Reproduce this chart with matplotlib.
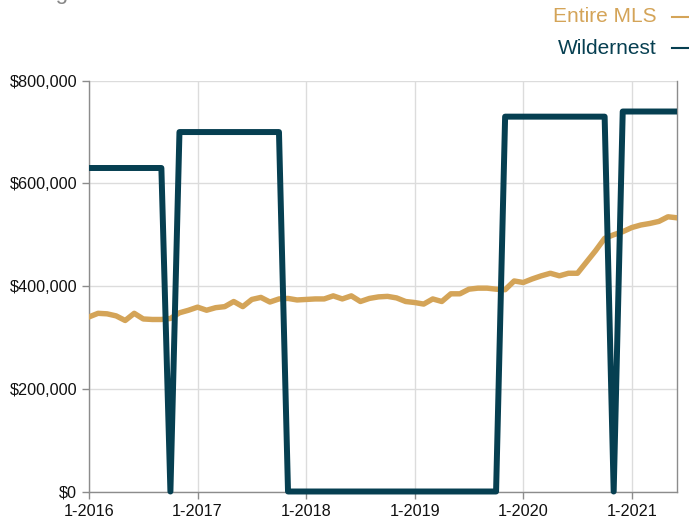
import matplotlib.pyplot as plt
from matplotlib.lines import Line2D
from matplotlib.ticker import FuncFormatter

plt.rcParams['font.family'] = ['Liberation Sans', 'DejaVu Sans']

# -------------------------
# Data (monthly, 1-2016 .. 6-2021)
# -------------------------
entire_mls = [340, 347, 346, 342, 333, 347, 336, 335, 335, 337,
              348, 353, 359, 353, 358, 360, 370, 360, 374, 378,
              369, 375, 376, 373, 374, 375, 375, 381, 375, 381,
              370, 376, 379, 380, 377, 370, 368, 365, 375, 370,
              385, 385, 394, 396, 396, 394, 393, 410, 407, 414,
              420, 425, 420, 425, 425, 447, 469, 493, 500, 506,
              514, 519, 522, 526, 535, 533]
entire_mls = [v * 1000 for v in entire_mls]

wildernest = [630] * 9 + [0] + [700] * 12 + [0] * 24 + [730] * 12 + [0] + [740] * 7
wildernest = [v * 1000 for v in wildernest]

year_ticks = [0, 12, 24, 36, 48, 60]
year_labels = ["1-2016", "1-2017", "1-2018", "1-2019", "1-2020", "1-2021"]
y_ticks = [0, 200000, 400000, 600000, 800000]

TAN = "#D4A458"
TEAL = "#063F51"
GRID = "#DCDCDC"
SPINE = "#8C8C8C"

# -------------------------
# Plot
# -------------------------
fig = plt.figure(figsize=(6.89, 5.21), dpi=100)
ax = fig.add_axes([89 / 689, 1 - 491.5 / 521, (677 - 89) / 689, (491.5 - 80.7) / 521])

months = list(range(len(entire_mls)))
ax.plot(months, entire_mls, color=TAN, lw=3.9, solid_joinstyle="round", zorder=3)
ax.plot(months, wildernest, color=TEAL, lw=4.3, solid_joinstyle="round",
        solid_capstyle="butt", zorder=4, clip_on=False)

ax.set_xlim(0, 65)
ax.set_ylim(0, 800000)
ax.set_xticks(year_ticks)
ax.set_xticklabels(year_labels)
ax.set_yticks(y_ticks)
ax.yaxis.set_major_formatter(FuncFormatter(lambda v, p: "${:,.0f}".format(v)))

ax.grid(True, color=GRID, lw=1.0)
ax.set_axisbelow(True)
for s in ["left", "bottom", "right"]:
    ax.spines[s].set_color(SPINE)
    ax.spines[s].set_linewidth(1.0)
ax.spines["top"].set_visible(False)
ax.tick_params(axis="both", colors=SPINE, labelcolor="#111111", labelsize=11.7,
               length=5, width=1.0)
ax.tick_params(axis="x", pad=4)

# legend at the top right
fig.text(657 / 689, 1 - 17 / 521, "Entire MLS", color=TAN, fontsize=15,
         ha="right", va="center")
fig.text(657 / 689, 1 - 48 / 521, "Wildernest", color=TEAL, fontsize=15,
         ha="right", va="center")
fig.add_artist(Line2D([672 / 689, 688 / 689], [1 - 17 / 521, 1 - 17 / 521],
                      color=TAN, lw=1.5, transform=fig.transFigure))
fig.add_artist(Line2D([672 / 689, 688 / 689], [1 - 48 / 521, 1 - 48 / 521],
                      color=TEAL, lw=1.5, transform=fig.transFigure))

# title is cut off at the top edge, as in the source
fig.text(0.0, 1 + 0.5 / 521, "Rolling 12 Month Calculation", color="#888888",
         fontsize=16, ha="left", va="baseline")

fig.savefig("out.png", dpi=100)
